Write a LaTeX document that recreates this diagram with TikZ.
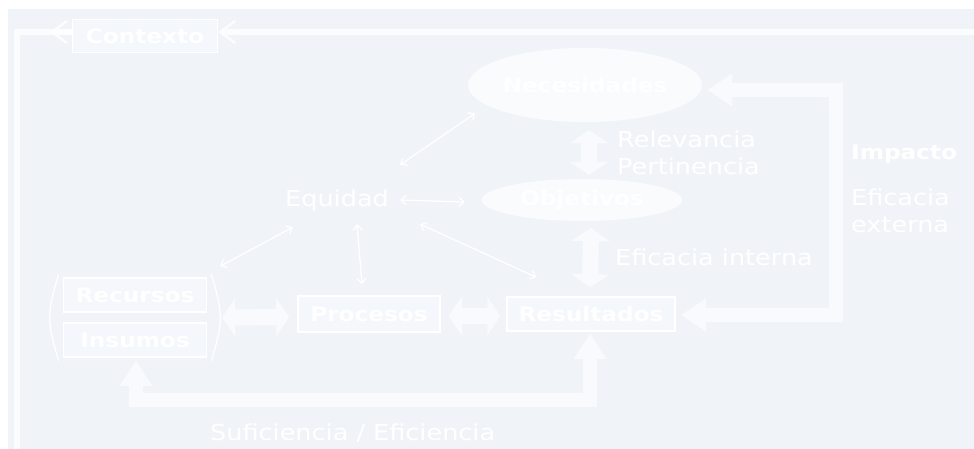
\documentclass[tikz,border=0pt]{standalone}
\usepackage{fontspec}
\setmainfont{DejaVu Sans}[FakeStretch=1.16]
\usepackage{tikz}
\usetikzlibrary{positioning,shapes.geometric,arrows.meta,calc}
\definecolor{bgBlue}{RGB}{240,244,249}
\definecolor{boxFill}{RGB}{244,247,251}
\definecolor{paleWhite}{RGB}{250,251,253}
\definecolor{arrowWhite}{RGB}{248,250,253}
\newcommand{\regularText}{\fontsize{22}{26}\selectfont}
\newcommand{\boldText}{\fontsize{20}{24}\selectfont\bfseries}
\tikzstyle{diagram} = [x = 1pt, y = -1pt]
\tikzstyle{boxStyle} = [draw=white, line width=1.5pt, fill=boxFill, text=white, font=\boldText, inner sep=0pt]
\tikzstyle{ellStyle} = [ellipse, fill=paleWhite, text=white, font=\boldText, inner sep=0pt]
\tikzstyle{plainText} = [text=white, font=\regularText, inner sep=0pt]
\tikzstyle{labelText} = [text=white, font=\regularText, inner sep=0pt, anchor=base west]
\tikzstyle{labelBold} = [text=white, font=\boldText, inner sep=0pt, anchor=base west]
\tikzstyle{frameLine} = [draw=white, opacity=0.75, line width=6pt]
\tikzstyle{fatArrow} = [draw=arrowWhite, line width=16pt, arrows={Triangle[width=38pt,length=13pt]-Triangle[width=38pt,length=13pt]}]
\tikzstyle{loopArrow} = [draw=arrowWhite, line width=14pt, arrows={Triangle[width=31pt,length=25pt]-Triangle[width=31pt,length=25pt]}]
\tikzstyle{thinArrow} = [draw=white, line width=1.2pt, arrows={Straight Barb[length=5pt,width=9pt]-Straight Barb[length=5pt,width=9pt]}]
\tikzstyle{bracketLine} = [draw=white, line width=1.2pt]
\newcommand{\contextTip}{Straight Barb[length=15pt,width=22pt,line width=2.5pt]}

\begin{document}
\begin{tikzpicture}[diagram]
  \useasboundingbox (0,0) rectangle (974,449);
  \fill [white] (0,0) rectangle (974,449);
  \fill [bgBlue] (8,9) rectangle (974,449);

  % nodes
  \node [boxStyle, minimum width=145pt, minimum height=33pt] (contexto) at (145,36) {Contexto};
  \node [ellStyle, minimum width=234pt, minimum height=74pt] (necesidades) at (585,85) {Necesidades};
  \node [ellStyle, minimum width=200pt, minimum height=42pt] (objetivos) at (582,200) {Objetivos};
  \node [plainText, minimum width=126pt, minimum height=70pt] (equidad) at (337,200) {Equidad};
  \node [boxStyle, minimum width=143pt, minimum height=34pt] (recursos) at (135,295) {Recursos};
  \node [boxStyle, minimum width=143pt, minimum height=34pt] (insumos) at (135,340) {Insumos};
  \node [boxStyle, minimum width=142pt, minimum height=36pt] (procesos) at (369,314) {Procesos};
  \node [boxStyle, minimum width=168pt, minimum height=34pt] (resultados) at (591,314) {Resultados};

  % labels
  \node [labelText] (relevancia) at (617,148) {Relevancia};
  \node [labelText] (pertinencia) at (617,175) {Pertinencia};
  \node [labelBold] (impacto) at (851,160) {Impacto};
  \node [labelText] (eficacia) at (851,206) {Eficacia};
  \node [labelText] (externa) at (851,232) {externa};
  \node [labelText] (interna) at (615,265) {Eficacia interna};
  \node [labelText] (suficiencia) at (210,440) {Suficiencia / Eficiencia};

  % frame round the picture
  \coordinate (frameRight) at (974,32);
  \coordinate (frameCorner) at (17,32);
  \coordinate (frameBottom) at (17,449);
  \draw [frameLine, -{\contextTip}] (frameRight) -- (contexto.east |- frameRight);
  \draw [frameLine] (contexto.west |- frameCorner) -- (frameCorner) -- (frameBottom);
  \draw [frameLine, -{\contextTip}] (contexto.west |- frameCorner) -- ($(contexto.west |- frameCorner)+(-22,0)$);

  % fat arrows
  \draw [fatArrow] ($(objetivos.north)+(7,-4)$) -- ($(necesidades.south)+(4,8)$);
  \draw [fatArrow] ($(resultados.north)+(-1,-9)$) -- ($(objetivos.south)+(9,7)$);
  \draw [fatArrow] ($(procesos.west)+(-8,3)$) -- ($(recursos.east)!0.5!(insumos.east)+(15,0)$);
  \draw [fatArrow] ($(procesos.east)+(8,2)$) -- ($(resultados.west)+(-6,2)$);

  \coordinate (bottomTurn) at (360,400);
  \draw [loopArrow] ($(insumos.south)+(1,3)$) |- (bottomTurn) -| ($(resultados.south)+(-1,2)$);
  \coordinate (impactTurn) at (836,90);
  \draw [loopArrow] ($(resultados.east)+(5,1)$) -| (impactTurn) -- ($(necesidades.east)+(5,5)$);

  % thin arrows round Equidad
  \draw [thinArrow] (equidad.north east) -- ($(necesidades.south west)+(-27,2)$);
  \draw [thinArrow] (equidad.east) -- ($(objetivos.west)+(-17,2)$);
  \draw [thinArrow] ($(equidad.south)+(20,-11)$) -- ($(procesos.north)+(-7,-11)$);
  \draw [thinArrow] ($(equidad.south east)+(20,-11)$) -- ($(resultados.north west)+(30,-19)$);
  \draw [thinArrow] ($(equidad.south west)+(19,-8)$) -- ($(recursos.north east)+(13,-11)$);

  % brackets round Recursos and Insumos
  \draw [bracketLine] ($(recursos.north west)+(-4,-3)$) .. controls ($(recursos.south west)+(-16,0)$) and ($(insumos.north west)+(-16,0)$) .. ($(insumos.south west)+(-4,3)$);
  \draw [bracketLine] ($(recursos.north east)+(4,-3)$) .. controls ($(recursos.south east)+(16,0)$) and ($(insumos.north east)+(16,0)$) .. ($(insumos.south east)+(4,3)$);
\end{tikzpicture}
\end{document}
